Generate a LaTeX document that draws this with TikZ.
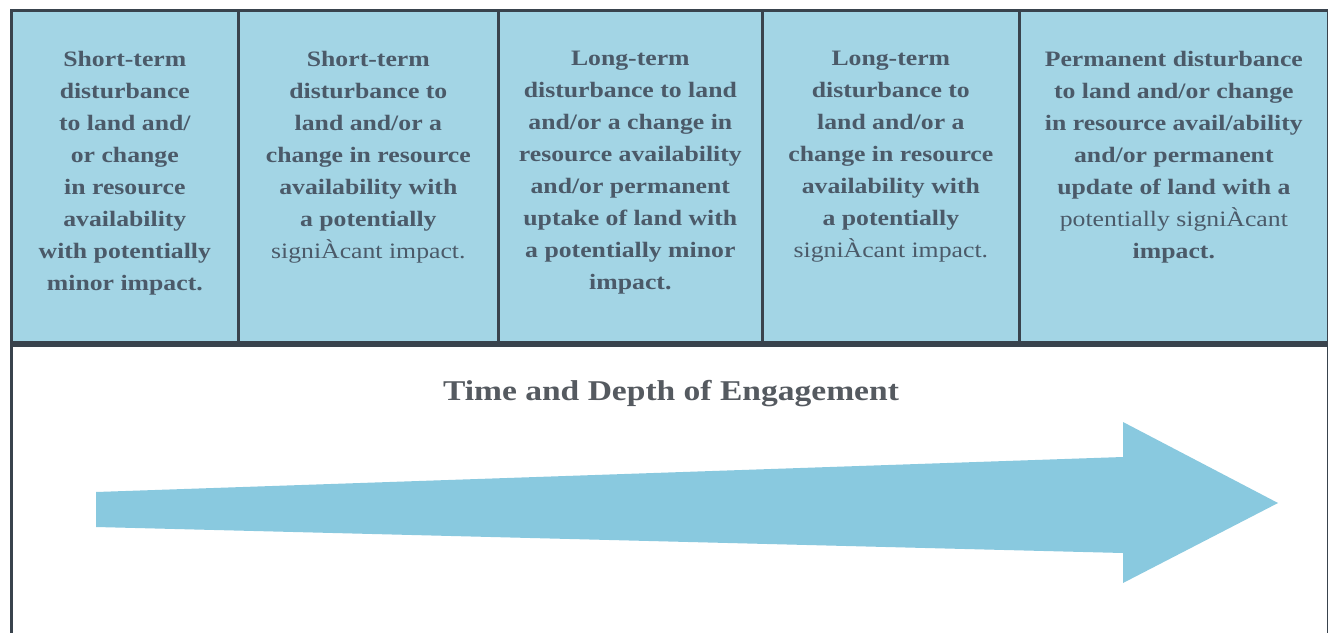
\documentclass[tikz,border=0pt]{standalone}
\usepackage{fontspec}
\setmainfont[FakeStretch=1.17]{Liberation Serif}
\definecolor{cellblue}{HTML}{A3D5E5}
\definecolor{arrowblue}{HTML}{89C9DF}
\definecolor{bordergray}{HTML}{39434D}
\definecolor{celltextcol}{HTML}{4B5A69}
\definecolor{titlecol}{HTML}{555A60}
\tikzset{
  cellbox/.style={draw=bordergray, fill=cellblue, line width=2pt, rectangle, inner sep=0pt, anchor=north west, minimum height=249pt},
  celltext/.style={anchor=north, align=center, inner sep=0pt, text=celltextcol, font=\fontsize{16.5}{24}\selectfont\bfseries},
  lowerbox/.style={draw=bordergray, fill=white, line width=2pt, rectangle, inner sep=0pt, anchor=north west},
  titletext/.style={text=titlecol, font=\fontsize{21.5}{26}\selectfont\bfseries, inner sep=0pt},
  bigarrow/.style={fill=arrowblue, draw=none}
}
\begin{document}
\begin{tikzpicture}[x=0.75pt,y=-0.75pt]
\useasboundingbox (0,0) rectangle (1328,632);
\fill[white] (0,0) rectangle (1328,632);
% lower box
\node[lowerbox, minimum width=988pt, minimum height=230pt] (low) at (10,344) {};
% cells
\node[cellbox, minimum width=170.25pt] (c1) at (10,9) {};
\node[cellbox, minimum width=195pt] (c2) at (237,9) {};
\node[cellbox, minimum width=198pt] (c3) at (497,9) {};
\node[cellbox, minimum width=192.75pt] (c4) at (761,9) {};
\node[cellbox, minimum width=231.75pt] (c5) at (1018,9) {};
% cell texts
\node[celltext] (t1) at ([yshift=-31.5pt]c1.north) {Short-term\\disturbance\\to land and/\\or change\\in resource\\availability\\with potentially\\minor impact.};
\node[celltext] (t2) at ([yshift=-31.5pt]c2.north) {Short-term\\disturbance to\\land and/or a\\change in resource\\availability with\\a potentially\\{\mdseries signiÀcant impact.}};
\node[celltext] (t3) at ([yshift=-31.5pt]c3.north) {Long-term\\disturbance to land\\and/or a change in\\resource availability\\and/or permanent\\uptake of land with\\a potentially minor\\impact.};
\node[celltext] (t4) at ([yshift=-31.5pt]c4.north) {Long-term\\disturbance to\\land and/or a\\change in resource\\availability with\\a potentially\\{\mdseries signiÀcant impact.}};
\node[celltext] (t5) at ([yshift=-31.5pt]c5.north) {Permanent disturbance\\to land and/or change\\in resource avail/ability\\and/or permanent\\update of land with a\\{\mdseries potentially signiÀcant}\\impact.};
% title
\node[titletext] (title) at (671,394) {Time and Depth of Engagement};
% arrow
\fill[bigarrow] (96,492) -- (1123,457) -- (1123,422) -- (1278,503) -- (1123,583) -- (1123,553) -- (96,527) -- cycle;
\end{tikzpicture}
\end{document}
